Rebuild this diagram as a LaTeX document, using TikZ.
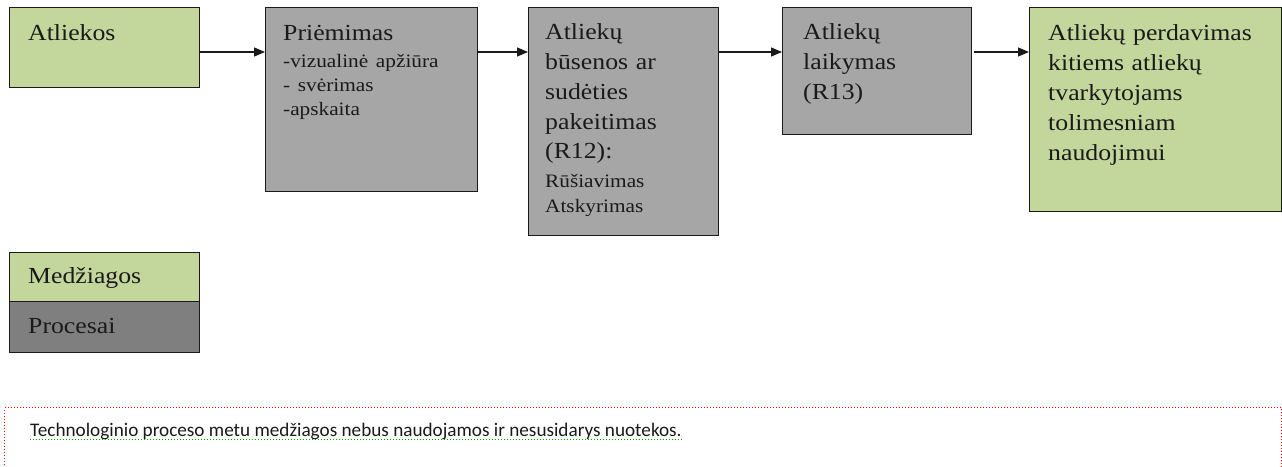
\documentclass[tikz,border=0pt]{standalone}
\usepackage{fontspec}
\setmainfont{Liberation Serif}[FakeStretch=1.12]
\newfontfamily\calib{Carlito}
\usetikzlibrary{arrows.meta,calc}
\definecolor{matgreen}{HTML}{C3D69B}
\definecolor{procgray}{HTML}{A6A6A6}
\definecolor{legdark}{HTML}{7F7F7F}
\definecolor{inkc}{HTML}{1A1A1A}
\newcommand{\smallfs}{\fontsize{19}{24}\selectfont}
\begin{document}
\begin{tikzpicture}[x=1pt,y=-1pt,
  box/.style={draw=inkc, line width=1.3pt, anchor=north west, inner sep=0pt},
  mat/.style={box, fill=matgreen},
  proc/.style={box, fill=procgray},
  txt/.style={anchor=base west, inner sep=0pt, align=left, text width=#1, text=inkc,
              font=\fontsize{23}{30}\selectfont},
  arr/.style={-{Triangle[length=11pt,width=9pt]}, line width=1.3pt, draw=inkc},
]
\useasboundingbox (0,0) rectangle (1282,466);

% boxes
\node[mat,  minimum width=190pt, minimum height=80pt]  (b1) at (9,7) {};
\node[proc, minimum width=212pt, minimum height=184pt] (b2) at (265,7) {};
\node[proc, minimum width=190pt, minimum height=228pt] (b3) at (528,7) {};
\node[proc, minimum width=189pt, minimum height=127pt] (b4) at (782,7) {};
\node[mat,  minimum width=252pt, minimum height=204pt] (b5) at (1029,7) {};

% texts
\node[txt=160pt] (t1) at ($(b1.north west)+(19,33)$) {Atliekos};
\node[txt=190pt] (t2) at ($(b2.north west)+(18,33)$)
  {Priėmimas\\[-3pt]{\smallfs -vizualinė apžiūra}\\[-6pt]{\smallfs - svėrimas}\\[-6pt]{\smallfs -apskaita}};
\node[txt=170pt] (t3) at ($(b3.north west)+(17,32)$)
  {Atliekų\\būsenos ar\\sudėties\\pakeitimas\\[-1pt](R12):\\[-1pt]{\smallfs Rūšiavimas}\\[-5pt]{\smallfs Atskyrimas}};
\node[txt=160pt] (t4) at ($(b4.north west)+(21,32)$) {Atliekų\\laikymas\\(R13)};
\node[txt=240pt] (t5) at ($(b5.north west)+(19,33)$)
  {Atliekų perdavimas\\kitiems atliekų\\tvarkytojams\\tolimesniam\\naudojimui};

% arrows
\draw[arr] ($(b1.north east)+(0,45)$) -- ($(b2.north west)+(0,45)$);
\draw[arr] ($(b2.north east)+(0,45)$) -- ($(b3.north west)+(0,45)$);
\draw[arr] ($(b3.north east)+(0,45)$) -- ($(b4.north west)+(0,45)$);
\draw[arr] ($(b4.north east)+(2,45)$) -- ($(b5.north west)+(0,45)$);

% legend
\node[mat, minimum width=190pt, minimum height=49pt] (l1) at (9,252) {};
\node[box, fill=legdark, minimum width=190pt, minimum height=51pt] (l2) at (9,301) {};
\node[txt=160pt] (lt1) at ($(l1.north west)+(19,31)$) {Medžiagos};
\node[txt=160pt] (lt2) at ($(l2.north west)+(19,32)$) {Procesai};

% note
\node[draw=red, dotted, line width=1pt, anchor=north west, inner sep=0pt,
      minimum width=1277pt, minimum height=75pt] (note) at (4,407) {};
\node[anchor=base west, inner sep=0pt, text=inkc, font=\calib\fontsize{19.2}{22}\selectfont]
  (nt) at ($(note.north west)+(26,29)$)
  {Technologinio proceso metu medžiagos nebus naudojamos ir nesusidarys nuotekos.};
\draw[green!65!black, dotted, line width=1pt] ($(nt.base west)+(0,3.5)$) -- ($(nt.base east)+(0,3.5)$);
\end{tikzpicture}
\end{document}
